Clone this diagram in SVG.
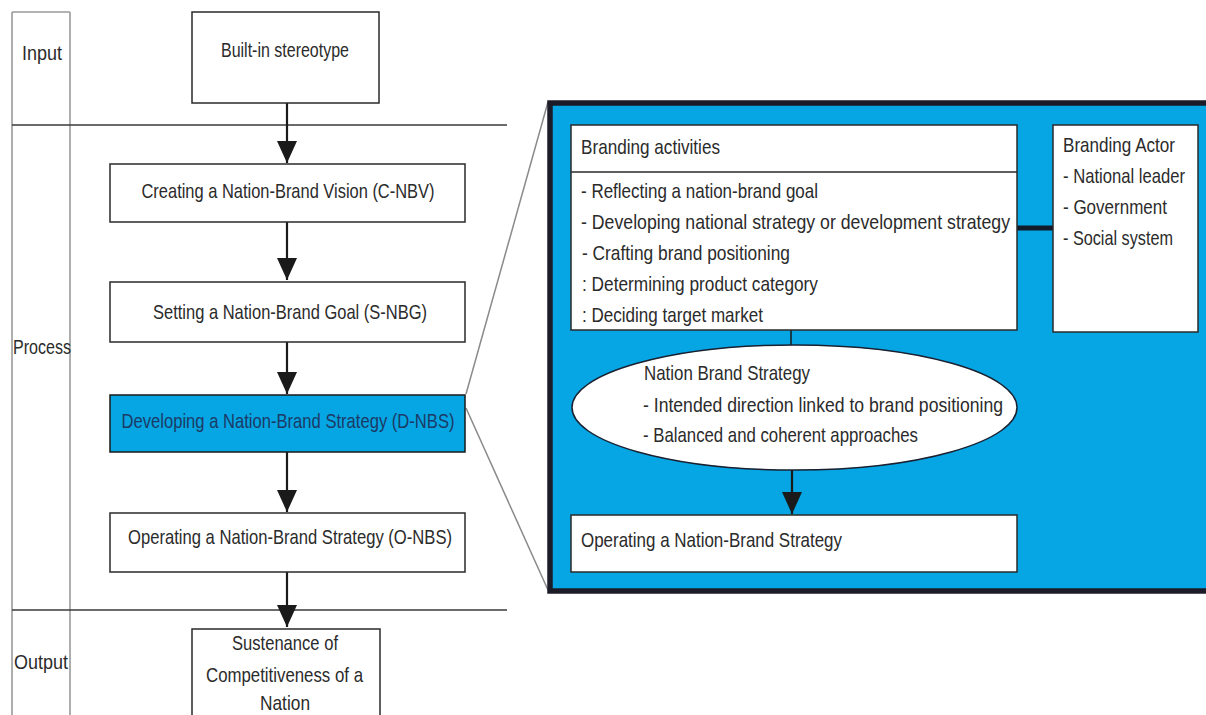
<svg xmlns="http://www.w3.org/2000/svg" width="1206" height="715" viewBox="0 0 1206 715">
<defs>
<style>
text{font-family:"Liberation Sans",Arial,sans-serif;font-size:21px;fill:#2b2b2b}
.box{fill:#fff;stroke:#2a2a2a;stroke-width:1.5}
.lane{stroke:#9a9a9a;stroke-width:1.6;fill:none}
.sep{stroke:#3a3a3a;stroke-width:1.4;fill:none}
.arr{stroke:#1a1a1a;stroke-width:2.2;fill:none}
.zoom{stroke:#8a8a8a;stroke-width:1.5;fill:none}
.mid{text-anchor:middle}
</style>
<marker id="ah" markerUnits="userSpaceOnUse" markerWidth="22" markerHeight="20" refX="22" refY="10" orient="auto" viewBox="0 0 22 20">
<path d="M0,0 L22,10 L0,20 Z" fill="#1a1a1a"/>
</marker>
</defs>
<rect width="1206" height="715" fill="#fff"/>

<g id="lanes">
<line class="lane" x1="12" y1="12" x2="12" y2="715"/>
<line class="lane" x1="70" y1="12" x2="70" y2="715"/>
<line class="lane" x1="12" y1="12" x2="70" y2="12"/>
<line class="sep" x1="12" y1="125" x2="507" y2="125"/>
<line class="sep" x1="12" y1="610" x2="507" y2="610"/>
<text x="22" y="60" textLength="40" lengthAdjust="spacingAndGlyphs">Input</text>
<text x="13" y="354" textLength="58" lengthAdjust="spacingAndGlyphs">Process</text>
<text x="14" y="669" textLength="54" lengthAdjust="spacingAndGlyphs">Output</text>
</g>

<g id="zoom-lines">
<line class="zoom" x1="466" y1="394" x2="548" y2="102"/>
<line class="zoom" x1="466" y1="408" x2="548" y2="590"/>
</g>

<g id="panel">
<rect x="550" y="103" width="665" height="488" fill="#05a6e3" stroke="#1b1c28" stroke-width="5.5"/>
</g>

<g id="connectors">
<line class="arr" x1="287" y1="103" x2="287" y2="163" marker-end="url(#ah)"/>
<line class="arr" x1="287" y1="222" x2="287" y2="280" marker-end="url(#ah)"/>
<line class="arr" x1="287" y1="342" x2="287" y2="394" marker-end="url(#ah)"/>
<line class="arr" x1="287" y1="452" x2="287" y2="512" marker-end="url(#ah)"/>
<line class="arr" x1="287" y1="572" x2="287" y2="627" marker-end="url(#ah)"/>
<line x1="791" y1="330" x2="791" y2="346" stroke="#1a1a1a" stroke-width="1.5"/>
<line class="arr" x1="792" y1="470" x2="792" y2="514" marker-end="url(#ah)"/>
<line x1="1017" y1="228" x2="1053" y2="228" stroke="#111a2a" stroke-width="5"/>
</g>

<g id="n-input">
<rect class="box" x="192" y="12" width="187" height="91"/>
<text class="mid" x="285" y="57" textLength="128" lengthAdjust="spacingAndGlyphs">Built-in stereotype</text>
</g>

<g id="n-cnbv">
<rect class="box" x="110" y="164" width="355" height="58"/>
<text class="mid" x="288" y="198" textLength="293" lengthAdjust="spacingAndGlyphs">Creating a Nation-Brand Vision (C-NBV)</text>
</g>

<g id="n-snbg">
<rect class="box" x="110" y="282" width="355" height="60"/>
<text class="mid" x="290" y="319" textLength="274" lengthAdjust="spacingAndGlyphs">Setting a Nation-Brand Goal (S-NBG)</text>
</g>

<g id="n-dnbs">
<rect x="110" y="395" width="355" height="57" fill="#05a6e3" stroke="#1a1a1a" stroke-width="1.5"/>
<text class="mid" x="288" y="428" textLength="333" lengthAdjust="spacingAndGlyphs" style="fill:#1d3a66">Developing a Nation-Brand Strategy (D-NBS)</text>
</g>

<g id="n-onbs">
<rect class="box" x="110" y="513" width="355" height="59"/>
<text class="mid" x="290" y="544" textLength="324" lengthAdjust="spacingAndGlyphs">Operating a Nation-Brand Strategy (O-NBS)</text>
</g>

<g id="n-output">
<rect class="box" x="192" y="629" width="188" height="100"/>
<text class="mid" x="285" y="650" textLength="106" lengthAdjust="spacingAndGlyphs">Sustenance of</text>
<text class="mid" x="284.5" y="682" textLength="157" lengthAdjust="spacingAndGlyphs">Competitiveness of a</text>
<text class="mid" x="285" y="710" textLength="50" lengthAdjust="spacingAndGlyphs">Nation</text>
</g>

<g id="n-activities">
<rect class="box" x="571" y="125" width="446" height="205"/>
<line x1="571" y1="172" x2="1017" y2="172" stroke="#2a2a2a" stroke-width="1.5"/>
<text x="581" y="154" textLength="139" lengthAdjust="spacingAndGlyphs">Branding activities</text>
<text x="581" y="198" textLength="237" lengthAdjust="spacingAndGlyphs">- Reflecting a nation-brand goal</text>
<text x="581" y="229" textLength="429" lengthAdjust="spacingAndGlyphs">- Developing national strategy or development strategy</text>
<text x="582" y="260" textLength="208" lengthAdjust="spacingAndGlyphs">- Crafting brand positioning</text>
<text x="582" y="291" textLength="236" lengthAdjust="spacingAndGlyphs">: Determining product category</text>
<text x="582" y="322" textLength="181" lengthAdjust="spacingAndGlyphs">: Deciding target market</text>
</g>

<g id="n-actor">
<rect class="box" x="1053" y="125" width="145" height="207"/>
<text x="1063" y="152" textLength="112" lengthAdjust="spacingAndGlyphs">Branding Actor</text>
<text x="1063" y="183" textLength="122" lengthAdjust="spacingAndGlyphs">- National leader</text>
<text x="1063" y="214" textLength="104" lengthAdjust="spacingAndGlyphs">- Government</text>
<text x="1063" y="245" textLength="110" lengthAdjust="spacingAndGlyphs">- Social system</text>
</g>

<g id="n-strategy">
<ellipse cx="794.5" cy="407.5" rx="222.5" ry="62.5" fill="#fff" stroke="#1a2030" stroke-width="1.5"/>
<text x="644" y="380" textLength="166" lengthAdjust="spacingAndGlyphs">Nation Brand Strategy</text>
<text x="643" y="412" textLength="360" lengthAdjust="spacingAndGlyphs">- Intended direction linked to brand positioning</text>
<text x="643" y="442" textLength="275" lengthAdjust="spacingAndGlyphs">- Balanced and coherent approaches</text>
</g>

<g id="n-operating">
<rect class="box" x="571" y="515" width="446" height="57"/>
<text x="581" y="547" textLength="261" lengthAdjust="spacingAndGlyphs">Operating a Nation-Brand Strategy</text>
</g>
</svg>
